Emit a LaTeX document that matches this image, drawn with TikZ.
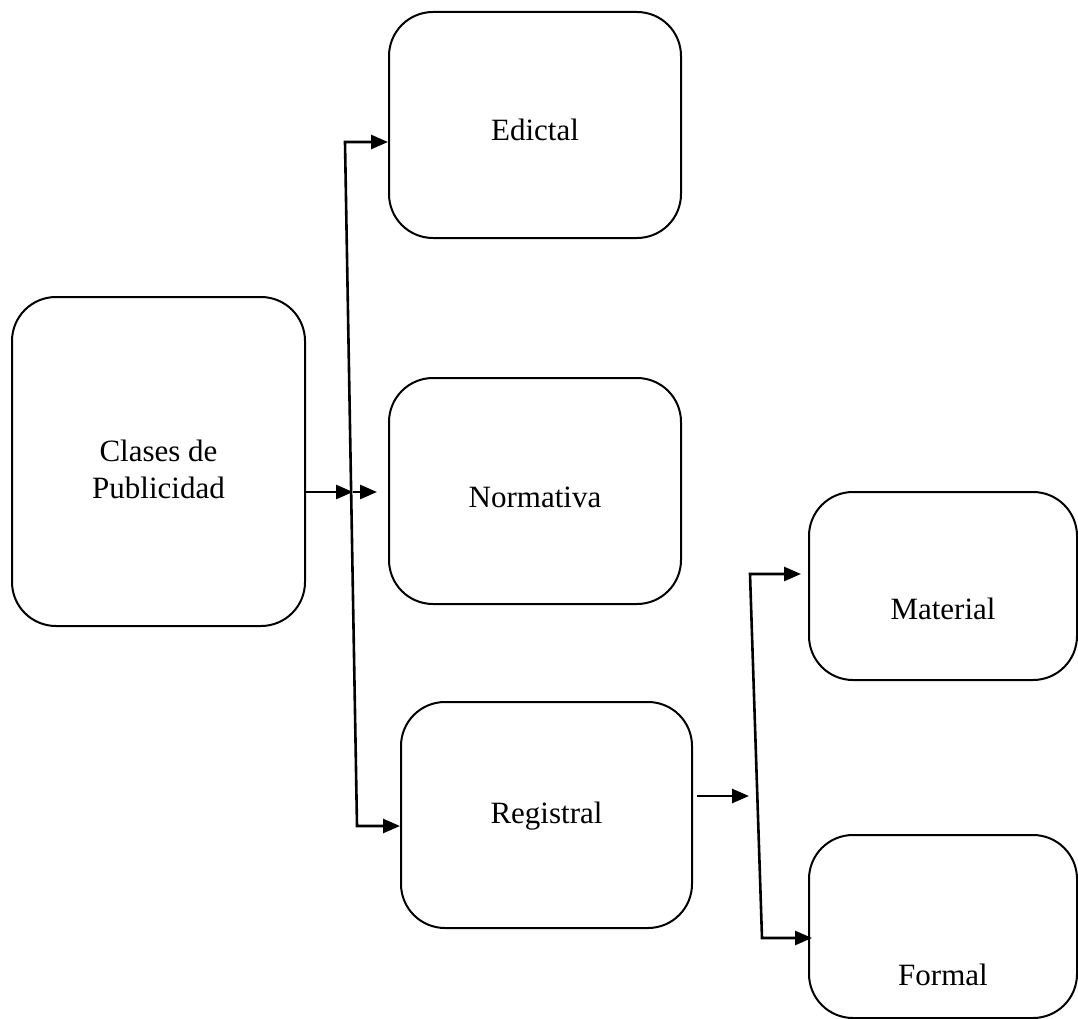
\documentclass[tikz,border=0pt]{standalone}
\usepackage{fontspec}
\setmainfont{Liberation Serif}
\usetikzlibrary{arrows.meta}
\begin{document}
\begin{tikzpicture}[x=1pt,y=-1pt,
  box/.style={draw,line width=2pt,rounded corners=44pt,inner sep=0pt},
  lbl/.style={font=\fontsize{31}{37}\selectfont,align=center,inner sep=0pt},
  conn/.style={line width=2.6pt},
  tip/.style={-{Triangle[length=17pt,width=14pt]}},
  tips/.style={{Triangle[length=17pt,width=14pt]}-{Triangle[length=17pt,width=14pt]}}]
\useasboundingbox (0,0) rectangle (1078,1019);
% boxes
\node[box,minimum width=293pt,minimum height=329pt] (clases) at (158.5,461.5) {};
\node[box,minimum width=292pt,minimum height=226pt] (edictal) at (535,125) {};
\node[box,minimum width=292pt,minimum height=226pt] (normativa) at (535,491) {};
\node[box,minimum width=291pt,minimum height=226pt] (registral) at (546.5,815) {};
\node[box,minimum width=268pt,minimum height=188pt] (material) at (943,586) {};
\node[box,minimum width=268pt,minimum height=183pt] (formal) at (943,926.5) {};
% labels
\node[lbl] (tclases) at (158.5,469) {Clases de\\Publicidad};
\node[lbl] (tedictal) at (535,130) {Edictal};
\node[lbl] (tnormativa) at (535,497) {Normativa};
\node[lbl] (tregistral) at (546.5,816) {Registral};
\node[lbl] (tmaterial) at (943,609) {Material};
\node[lbl] (tformal) at (943,975) {Formal};
% coordinates
\coordinate (m1) at (353,492);
\coordinate (m2) at (377,492);
\coordinate (b1top) at (345,142);
\coordinate (b1bot) at (357,826);
\coordinate (r1) at (697,796);
\coordinate (r2) at (749,796);
\coordinate (b2top) at (750,574);
\coordinate (b2bot) at (762,938);
\coordinate (t2top) at (801,574);
\coordinate (t2bot) at (812,938);
% connectors
\draw[conn,tip] (clases.east |- m1) -- (m1);
\draw[conn,tip] (m1) -- (m2);
\draw[conn,tips] (b1top -| edictal.west) -- (b1top) -- (b1bot) -- (b1bot -| registral.west);
\draw[conn,tip] (r1) -- (r2);
\draw[conn,tips] (t2top) -- (b2top) -- (b2bot) -- (t2bot);
\end{tikzpicture}
\end{document}
